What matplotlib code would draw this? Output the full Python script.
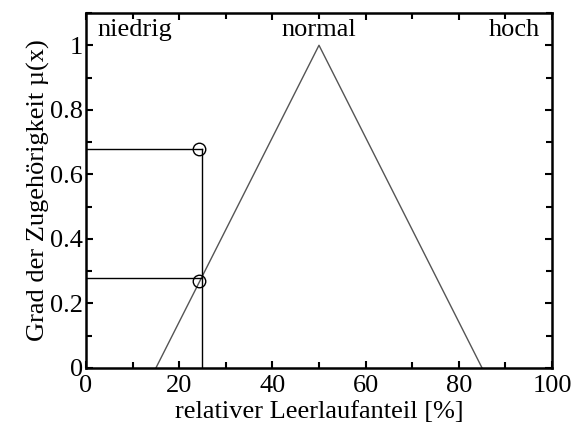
#!/usr/bin/env python3

import matplotlib.pyplot as plt
from matplotlib.ticker import MultipleLocator

# Zugehoerigkeitsfunktion "normal" (Dreieck)
normal_x = [15, 50, 85]
normal_mu = [0, 1, 0]

read_x = 25
read_levels = [0.68, 0.28]
marker_x = [24.3, 24.3]
marker_mu = [0.68, 0.27]

term_labels = ["niedrig", "normal", "hoch"]


def main():
    plt.rcParams["font.family"] = ["Liberation Serif", "DejaVu Serif"]

    fig = plt.figure(figsize=(5.71, 4.30), dpi=100)
    ax = fig.add_axes([0.1506, 0.1442, 0.8161, 0.8256])

    ax.plot(normal_x, normal_mu, color="#555555", lw=1.0)

    for level in read_levels:
        ax.plot([0, read_x], [level, level], color="black", lw=1.0)
    ax.plot([read_x, read_x], [0, max(read_levels)], color="black", lw=1.0)
    ax.plot(marker_x, marker_mu, "o", mfc="none", mec="black", ms=9, mew=1.0)

    ax.text(2.4, 1.028, term_labels[0], ha="left", va="baseline", fontsize=19)
    ax.text(50, 1.028, term_labels[1], ha="center", va="baseline", fontsize=19)
    ax.text(97.4, 1.028, term_labels[2], ha="right", va="baseline", fontsize=19)

    ax.set_xlim(0, 100)
    ax.set_ylim(0, 1.1)
    ax.xaxis.set_minor_locator(MultipleLocator(10))
    ax.yaxis.set_minor_locator(MultipleLocator(0.1))
    ax.set_xticks([0, 20, 40, 60, 80, 100])
    ax.set_xticklabels(["0", "20", "40", "60", "80", "100"])
    ax.set_yticks([0, 0.2, 0.4, 0.6, 0.8, 1.0])
    ax.set_yticklabels(["0", "0.2", "0.4", "0.6", "0.8", "1"])
    ax.tick_params(which="both", direction="in", top=True, right=True,
                   width=1.5, labelsize=19)
    ax.tick_params(axis="x", pad=5)
    ax.tick_params(axis="y", pad=2)
    ax.tick_params(which="major", length=5)
    ax.tick_params(which="minor", length=4)
    for spine in ax.spines.values():
        spine.set_linewidth(1.8)

    ax.set_xlabel("relativer Leerlaufanteil [%]", fontsize=19, labelpad=3)
    ax.set_ylabel("Grad der Zugehörigkeit µ(x)", fontsize=19, labelpad=0)

    fig.savefig("out.png", dpi=100)


if __name__ == "__main__":
    main()
